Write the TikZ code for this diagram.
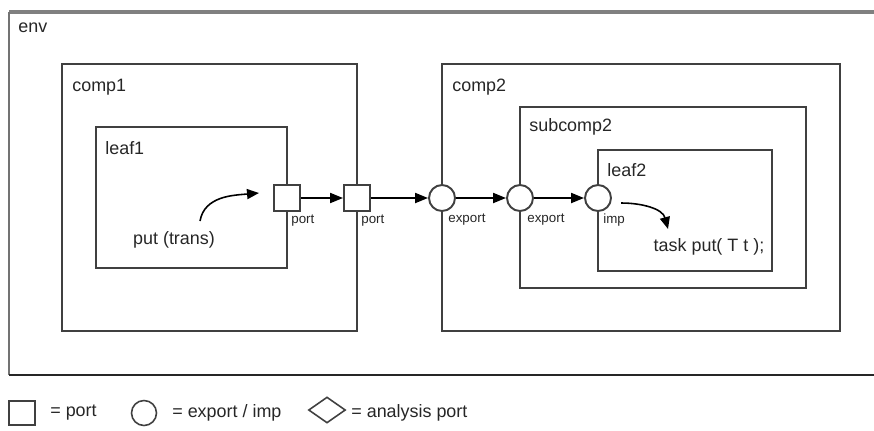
\documentclass[tikz,border=0pt]{standalone}
\usepackage{fontspec}
\setmainfont{Liberation Sans}
\usetikzlibrary{shapes.geometric}
\usetikzlibrary{arrows.meta}

\begin{document}
\begin{tikzpicture}[x=0.02cm, y=-0.02cm,
  box/.style={draw=black!75, line width=1.1pt},
  title/.style={anchor=west, inner sep=0pt, font=\fontsize{10.2}{12}\selectfont, text=black!85},
  lbl/.style={anchor=west, inner sep=0pt, font=\fontsize{7.6}{9}\selectfont, text=black!85},
  portsq/.style={draw=black!75, line width=1.1pt, fill=white, minimum size=0.52cm, inner sep=0pt},
  portci/.style={circle, draw=black!75, line width=1.1pt, fill=white, minimum size=0.52cm, inner sep=0pt},
  conn/.style={line width=1.1pt, -{Triangle[length=0.26cm, width=0.2cm]}},
  flow/.style={line width=0.9pt, -{Triangle[length=0.24cm, width=0.2cm]}}]

\useasboundingbox (0,0) rectangle (874,430);
\clip (0,0) rectangle (874,430);

% env frame
\draw[black!50, line width=1.8pt] (9,12) -- (900,12);
\draw[black!55, line width=1.1pt] (9,12) -- (9,375);
\draw[black!85, line width=1.1pt] (9,375) -- (900,375);
\node[title] (env) at (18,28) {env};

% components
\draw[box] (62,64) rectangle (357,331);
\node[title] (comp1) at (72,87) {comp1};
\draw[box] (96,127) rectangle (287,268);
\node[title] (leaf1) at (105,148) {leaf1};

\draw[box] (442,64) rectangle (840,331);
\node[title] (comp2) at (452,87) {comp2};
\draw[box] (520,107) rectangle (806,288);
\node[title] (subcomp2) at (529,127) {subcomp2};
\draw[box] (598,150) rectangle (772,271);
\node[title] (leaf2) at (607,170) {leaf2};

% ports
\node[portsq] (port1) at (287,198) {};
\node[portsq] (port2) at (357,198) {};
\node[portci] (export1) at (442,198) {};
\node[portci] (export2) at (520,198) {};
\node[portci] (imp) at (598,198) {};

\node[lbl] at (291,221) {port};
\node[lbl] at (361,221) {port};
\node[lbl] at (448,220) {export};
\node[lbl] at (527,220) {export};
\node[lbl] at (603,220) {imp};

\draw[conn] (port1) -- (port2);
\draw[conn] (port2) -- (export1);
\draw[conn] (export1) -- (export2);
\draw[conn] (export2) -- (imp);

% calls
\node[title, anchor=center] (put) at (174,240) {put (trans)};
\coordinate (putS) at (200,221);
\coordinate (putE) at (259,193);
\draw[flow] (putS) to[out=80, in=185] (putE);

\node[title, anchor=center] (task) at (709,247) {task put( T t );};
\coordinate (taskS) at (621,203);
\coordinate (taskE) at (668,229);
\draw[flow] (taskS) to[out=0, in=105] (taskE);

% legend
\node[draw=black!75, line width=0.9pt, minimum width=0.52cm, minimum height=0.48cm] (keysq) at (22,413) {};
\node[title] (keysqT) at (50,413) {= port};
\node[circle, draw=black!75, line width=0.9pt, minimum size=0.5cm, inner sep=0pt] (keyci) at (144,413) {};
\node[title] (keyciT) at (172,413) {= export / imp};
\node[diamond, draw=black!75, line width=0.9pt, minimum width=0.74cm, minimum height=0.52cm, inner sep=0pt] (keydi) at (327,410) {};
\node[title] (keydiT) at (351,413) {= analysis port};
\end{tikzpicture}
\end{document}
